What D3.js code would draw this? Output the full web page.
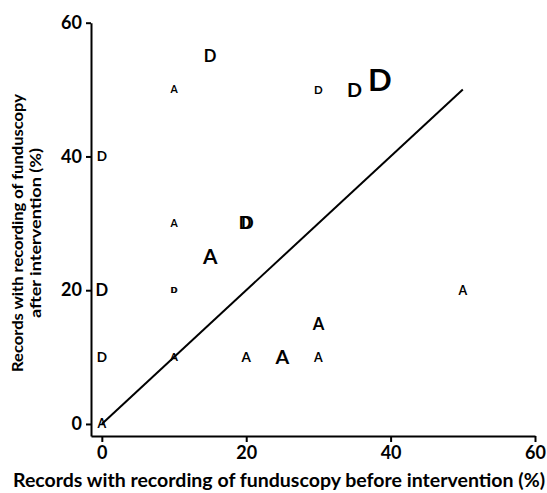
<!DOCTYPE html>
<html>
<head>
    <meta charset="UTF-8">
    <title>Funduscopy before / after</title>
    <script src="https://cdn.jsdelivr.net/npm/d3@7/dist/d3.min.js"></script>
    <style>
        body, html { margin: 0; padding: 0; background: #fff; }
        text { font-family: Lato, "Open Sans", sans-serif; fill: #000; }
    </style>
</head>
<body>
    <svg id="chart" width="547" height="493"></svg>
    <script>
        // practice markers: letter, % before, % after, relative marker size
        var letters = ["D", "A", "D", "D", "D", "D", "A", "D", "D", "A", "D", "D", "D", "A", "A", "D", "A", "A", "A", "A", "A"];
        var before  = [15, 10, 30, 35, 38.5, 0, 10, 19.85, 20.15, 15, 0, 9.95, 10.05, 50, 30, 0, 10, 20, 25, 30, 0];
        var after   = [55, 50, 50, 50, 51.5, 40, 30, 30, 30, 25, 20, 20, 20, 20, 15, 10, 10, 10, 10, 10, 0];
        var weight  = [1.6, 1, 1.1, 1.9, 3, 1.3, 1, 1.6, 1.6, 2, 1.6, 0.8, 0.8, 1.2, 1.6, 1.3, 1.1, 1.3, 1.9, 1.2, 1.2];

        var xTicks = [0, 20, 40, 60];
        var yTicks = [0, 20, 40, 60];
        var lineOfEquality = [0, 50];

        var svg = d3.select("#chart");

        var x = d3.scaleLinear().domain([-1.5, 60]).range([91, 535]);
        var y = d3.scaleLinear().domain([-1.8, 60]).range([436, 22.7]);
        var size = d3.scaleLinear().domain([0, 1]).range([0, 10.4]);

        var xAxis = svg.append("g")
            .attr("transform", "translate(0,436)")
            .call(d3.axisBottom(x).tickValues(xTicks).tickSize(6).tickSizeOuter(0).tickPadding(4));

        var yAxis = svg.append("g")
            .attr("transform", "translate(91,0)")
            .call(d3.axisLeft(y).tickValues(yTicks).tickSize(5).tickSizeOuter(0).tickPadding(4));

        [xAxis, yAxis].forEach(function (g) {
            g.selectAll("path, line").attr("stroke", "#000").attr("stroke-width", 2);
            g.selectAll("text")
                .attr("font-family", "Lato, sans-serif")
                .attr("font-size", "18px")
                .attr("font-weight", "bold")
                .attr("fill", "#000");
        });

        svg.append("line")
            .attr("x1", x(lineOfEquality[0]))
            .attr("y1", y(lineOfEquality[0]))
            .attr("x2", x(lineOfEquality[1]))
            .attr("y2", y(lineOfEquality[1]))
            .attr("stroke", "#000")
            .attr("stroke-width", 2);

        svg.selectAll(".mark")
            .data(letters)
            .enter()
            .append("text")
            .attr("class", "mark")
            .attr("x", function (d, i) { return x(before[i]); })
            .attr("y", function (d, i) { return y(after[i]); })
            .attr("dy", "0.36em")
            .attr("text-anchor", "middle")
            .attr("font-size", function (d, i) { return size(weight[i]) + "px"; })
            .attr("font-weight", "bold")
            .text(function (d) { return d; });

        svg.append("text")
            .attr("x", 279)
            .attr("y", 487)
            .attr("text-anchor", "middle")
            .attr("font-size", "18px")
            .attr("font-weight", "bold")
            .attr("textLength", 532)
            .attr("lengthAdjust", "spacingAndGlyphs")
            .text("Records with recording of funduscopy before intervention (%)");

        var yTitle = svg.append("g")
            .attr("transform", "translate(0,233) rotate(-90)");
        yTitle.append("text")
            .attr("x", 0)
            .attr("y", 23)
            .attr("text-anchor", "middle")
            .attr("font-size", "16px")
            .attr("font-weight", "bold")
            .attr("textLength", 278)
            .attr("lengthAdjust", "spacingAndGlyphs")
            .text("Records with recording of funduscopy");
        yTitle.append("text")
            .attr("x", 0)
            .attr("y", 41)
            .attr("text-anchor", "middle")
            .attr("font-size", "16px")
            .attr("font-weight", "bold")
            .attr("textLength", 170)
            .attr("lengthAdjust", "spacingAndGlyphs")
            .text("after intervention (%)");
    </script>
</body>
</html>
